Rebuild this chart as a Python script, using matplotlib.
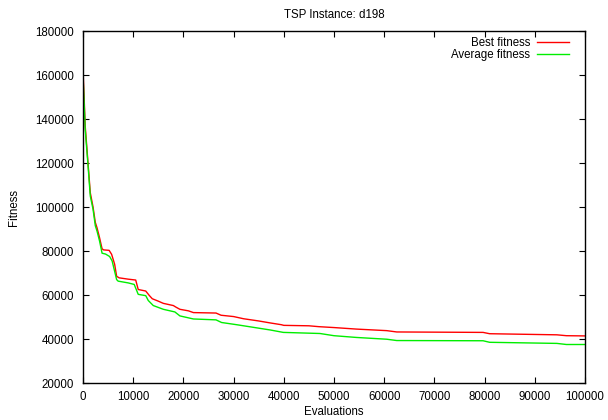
import numpy as np
import matplotlib
matplotlib.use("Agg")
import matplotlib.pyplot as plt

# evaluations / fitness samples for both curves
best_evals = [0, 450, 1000, 1450, 2000, 2450, 2800, 3300, 3800, 4100, 5200, 5700,
              6300, 6700, 7200, 9000, 10500, 11000, 12500, 13200, 13800, 15000,
              16000, 18000, 18500, 19300, 21000, 22000, 26500, 27500, 30000,
              32000, 35000, 37300, 39500, 40000, 45000, 47000, 50000, 54500,
              60500, 62500, 79700, 81000, 94400, 96300, 100000]
best_fitness = [162500, 136500, 120000, 106500, 100000, 93000, 90500, 86000, 81000,
                80500, 80300, 78500, 74000, 68500, 67800, 67200, 66800, 62500,
                61800, 59800, 58300, 57200, 56200, 55200, 54500, 53500, 52800,
                52000, 51800, 50800, 50200, 49200, 48200, 47300, 46500, 46200,
                46000, 45600, 45200, 44500, 43800, 43200, 43000, 42400, 41900,
                41500, 41400]

avg_evals = [0, 450, 1000, 1450, 2000, 2450, 2800, 3300, 3800, 4500, 5300, 5800,
             6700, 7000, 9000, 10200, 11000, 12500, 13000, 14000, 16000, 18300,
             19300, 22000, 26500, 27600, 30600, 37300, 39900, 47200, 50000,
             54500, 60500, 62500, 79700, 81000, 94400, 96300, 100000]
avg_fitness = [160000, 135000, 119000, 105000, 99000, 91500, 89000, 84500, 79000,
               78600, 77500, 75500, 67000, 66300, 65500, 64800, 60300, 59700,
               57500, 55200, 53500, 52300, 50500, 49100, 48700, 47500, 46500,
               44100, 43000, 42500, 41500, 40700, 39900, 39300, 39200, 38500,
               38000, 37500, 37500]

plt.rcParams['font.family'] = ['Liberation Sans', 'DejaVu Sans']
fs = 8.3

fig = plt.figure(figsize=(6.08, 4.2), dpi=100)
ax = fig.add_axes([83/608, 37/420, 502/608, 352/420])

ax.plot(best_evals, best_fitness, color='#ff0000', lw=1.0, label='Best fitness')
ax.plot(avg_evals, avg_fitness, color='#00ee00', lw=1.0, label='Average fitness')

ax.set_xlim(0, 100000)
ax.set_ylim(20000, 180000)
ax.set_xticks(np.arange(0, 100001, 10000))
ax.set_yticks(np.arange(20000, 180001, 20000))
ax.tick_params(direction='in', length=4, width=0.8, top=True, right=True,
               labelsize=fs)
ax.tick_params(axis='y', pad=6.5)
ax.tick_params(axis='x', pad=5.5)
for s in ax.spines.values():
    s.set_linewidth(1.0)

ax.set_title('TSP Instance: d198', fontsize=fs, pad=9)
ax.set_xlabel('Evaluations', fontsize=fs, labelpad=2.5)
ax.set_ylabel('Fitness', fontsize=fs, labelpad=11)

leg = ax.legend(loc='upper right', fontsize=fs, frameon=False, markerfirst=False,
                handlelength=2.8, handletextpad=0.6, labelspacing=0.05,
                borderaxespad=0.1, bbox_to_anchor=(0.98, 1.0))
for t in leg.get_texts():
    t.set_ha('right')

fig.savefig('out.png', dpi=100)
